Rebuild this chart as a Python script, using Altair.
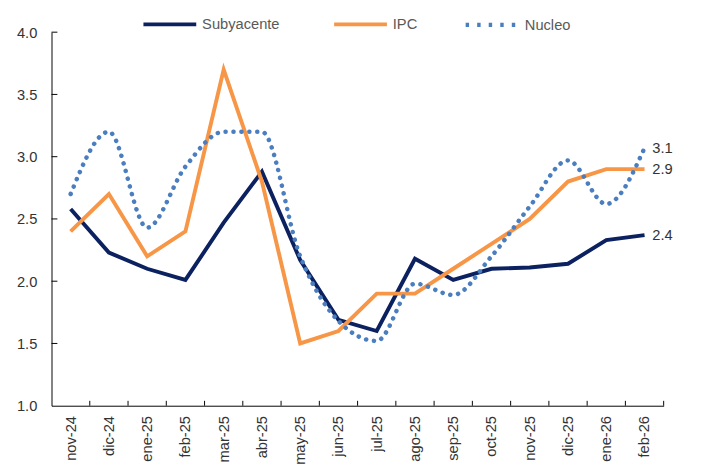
import altair as alt
import pandas as pd

months = ["nov-24", "dic-24", "ene-25", "feb-25", "mar-25", "abr-25", "may-25", "jun-25",
          "jul-25", "ago-25", "sep-25", "oct-25", "nov-25", "dic-25", "ene-26", "feb-26"]
subyacente = [2.58, 2.23, 2.10, 2.01, 2.47, 2.88, 2.17, 1.69, 1.60, 2.18, 2.01, 2.10, 2.11, 2.14, 2.33, 2.37]
ipc = [2.4, 2.7, 2.2, 2.4, 3.7, 2.8, 1.5, 1.6, 1.9, 1.9, 2.1, 2.3, 2.5, 2.8, 2.9, 2.9]
nucleo = [2.7, 3.2, 2.43, 2.92, 3.2, 3.2, 2.2, 1.68, 1.52, 1.98, 1.89, 2.2, 2.6, 2.97, 2.62, 3.07]
series_names = ["Subyacente", "IPC", "Nucleo"]
y_ticks = [1.0, 1.5, 2.0, 2.5, 3.0, 3.5, 4.0]

NAVY = "#0b2160"
ORANGE = "#f79646"
BLUE = "#4a7ebf"
FONT = "Liberation Sans"
W, H = 626, 382

rows = []
for name, vals in zip(series_names, [subyacente, ipc, nucleo]):
    for m, v in zip(months, vals):
        rows.append({"mes": m, "valor": v, "serie": name})
df = pd.DataFrame(rows)
ticks_df = pd.DataFrame({"valor": y_ticks[1:]})
months_df = pd.DataFrame({"mes": months})

xscale = alt.Scale(type="band", domain=months, paddingInner=0, paddingOuter=0)
yscale = alt.Scale(domain=[1.0, 4.0], nice=False, zero=False)

x_axis = alt.Axis(title=None, labelAngle=-90, labelFontSize=15, labelFont=FONT,
                  labelColor="#333333", ticks=False, domainColor="black",
                  labelPadding=10, grid=False)
y_axis = alt.Axis(title=None, values=y_ticks, format=".1f", ticks=False,
                  labelFontSize=15, labelFont=FONT, labelColor="#333333",
                  domainColor="black", labelPadding=15, grid=False)

X = alt.X("mes:O", sort=months, scale=xscale, bandPosition=0.5, axis=x_axis, title=None)
Y = alt.Y("valor:Q", scale=yscale, axis=y_axis, title=None)

def leg(x, **kw):
    return alt.Legend(orient="none", legendX=x, legendY=-37, title=None,
                      direction="horizontal", labelFontSize=15, labelFont=FONT,
                      labelColor="#595959", labelOffset=4, padding=0,
                      symbolSize=2916, symbolType="stroke", **kw)

base = alt.Chart(df)

line_sub = base.transform_filter(alt.datum.serie == "Subyacente").mark_line(
    strokeWidth=4, strokeJoin="miter"
).encode(
    x=X, y=Y,
    color=alt.Color("serie:N", scale=alt.Scale(domain=["Subyacente"], range=[NAVY]),
                    legend=leg(92, symbolStrokeWidth=4)),
)

line_ipc = base.transform_filter(alt.datum.serie == "IPC").mark_line(
    strokeWidth=4, strokeJoin="miter"
).encode(
    x=X, y=Y,
    color=alt.Color("serie:N", scale=alt.Scale(domain=["IPC"], range=[ORANGE]),
                    legend=leg(287, symbolStrokeWidth=4)),
)

line_nuc = base.transform_filter(alt.datum.serie == "Nucleo").mark_line(
    strokeWidth=4.6, strokeDash=[0.1, 8], strokeCap="round", interpolate="monotone"
).encode(
    x=X, y=Y,
    color=alt.Color("serie:N", scale=alt.Scale(domain=["Nucleo"], range=[BLUE]),
                    legend=leg(421, symbolStrokeWidth=4.5, symbolDash=[3.5, 8.3])),
)

end_labels = base.transform_filter(alt.datum.mes == "feb-26").mark_text(
    align="left", baseline="middle", dx=8, fontSize=15, font=FONT, color="#333333"
).encode(x=X, y=Y, text=alt.Text("valor:Q", format=".1f"))

y_tick_rules = alt.Chart(ticks_df).mark_rule(color="black", strokeWidth=1).encode(
    y=Y, x=alt.value(0), x2=alt.value(6)
)
x_tick_rules = alt.Chart(months_df).mark_rule(color="black", strokeWidth=1).encode(
    x=alt.X("mes:O", sort=months, scale=xscale, bandPosition=1, axis=x_axis, title=None),
    y=alt.value(H - 5), y2=alt.value(H),
)

chart = alt.layer(
    y_tick_rules, x_tick_rules, line_sub, line_ipc, line_nuc, end_labels
).resolve_scale(color="independent").properties(
    width=W, height=H,
    autosize=alt.AutoSizeParams(type="none"),
    padding={"left": 44.5, "top": 19.5, "right": 30, "bottom": 60},
).configure_view(stroke=None).configure_axis(grid=False)

chart.save("out.html", embed_options={"renderer": "svg", "actions": False})
